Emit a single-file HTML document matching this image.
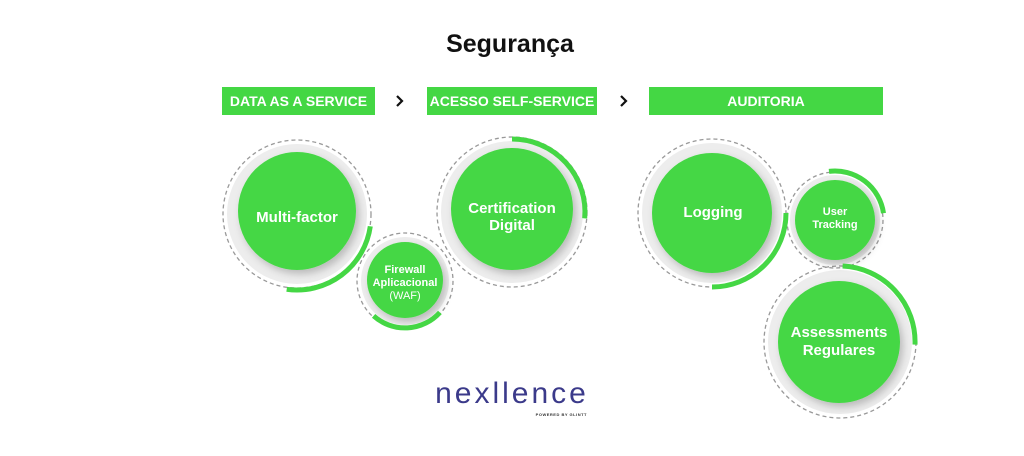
<!DOCTYPE html>
<html><head><meta charset="utf-8"><style>
html,body{margin:0;padding:0;background:#fff;}
svg{display:block;}
text{font-family:"Liberation Sans",sans-serif;}
</style></head><body>
<svg width="1024" height="456" viewBox="0 0 1024 456" xmlns="http://www.w3.org/2000/svg">
<defs>
<filter id="sh" x="-30%" y="-30%" width="160%" height="160%">
<feDropShadow dx="3" dy="4" stdDeviation="4" flood-color="#000" flood-opacity="0.22"/>
</filter>
</defs>
<rect width="1024" height="456" fill="#fff"/>
<text x="510" y="52" font-size="25" font-weight="bold" fill="#111" text-anchor="middle">Segurança</text>

<rect x="222" y="87" width="153" height="28" fill="#44d744"/>
<text x="298.5" y="106" font-size="14" font-weight="bold" fill="#fff" text-anchor="middle">DATA AS A SERVICE</text>
<rect x="427" y="87" width="170" height="28" fill="#44d744"/>
<text x="512" y="106" font-size="14" font-weight="bold" fill="#fff" text-anchor="middle">ACESSO SELF-SERVICE</text>
<rect x="649" y="87" width="234" height="28" fill="#44d744"/>
<text x="766" y="106" font-size="14" font-weight="bold" fill="#fff" text-anchor="middle">AUDITORIA</text>
<path d="M397 96 L402 101 L397 106" fill="none" stroke="#111" stroke-width="2.2"/>
<path d="M621 96 L626 101 L621 106" fill="none" stroke="#111" stroke-width="2.2"/>

<g stroke="#999" stroke-width="1.3" stroke-dasharray="4 3" fill="none">
<circle cx="297" cy="214" r="74"/>
<circle cx="405" cy="281" r="48"/>
<circle cx="512" cy="212" r="75"/>
<circle cx="712" cy="213" r="74"/>
<circle cx="835" cy="220" r="48"/>
<circle cx="840" cy="342" r="76"/>
</g>
<g fill="#ededed">
<circle cx="297" cy="214" r="70"/>
<circle cx="405" cy="281" r="44"/>
<circle cx="512" cy="212" r="71"/>
<circle cx="712" cy="213" r="70"/>
<circle cx="835" cy="220" r="45"/>
<circle cx="840" cy="342" r="72"/>
</g>
<g fill="#44d744" filter="url(#sh)">
<circle cx="297" cy="211" r="59"/>
<circle cx="405" cy="280" r="38"/>
<circle cx="512" cy="209" r="61"/>
<circle cx="712" cy="213" r="60"/>
<circle cx="835" cy="220" r="40"/>
<circle cx="839" cy="342" r="61"/>
</g>
<g fill="none" stroke="#44d744" stroke-width="5">
<path d="M370.3 226.3 A74 74 0 0 1 286.7 289.3"/>
<path d="M439.9 312.4 A47 47 0 0 1 373.6 315.9"/>
<path d="M512 139 A73 73 0 0 1 584.7 218.4"/>
<path d="M786 213 A74 74 0 0 1 712 287"/>
<path d="M829 171.4 A49 49 0 0 1 883.5 213.2"/>
<path d="M842.6 266 A76 76 0 0 1 915 344.6"/>
</g>
<g fill="#fff" font-weight="bold" text-anchor="middle">
<text x="297" y="222" font-size="15">Multi-factor</text>
<text x="405" y="273" font-size="11">Firewall</text>
<text x="405" y="286" font-size="11">Aplicacional</text>
<text x="405" y="299" font-size="11" font-weight="normal">(WAF)</text>
<text x="512" y="213" font-size="15">Certification</text>
<text x="512" y="230" font-size="15">Digital</text>
<text x="713" y="217" font-size="15">Logging</text>
<text x="835" y="215" font-size="11">User</text>
<text x="835" y="228" font-size="11">Tracking</text>
<text x="839" y="337" font-size="15">Assessments</text>
<text x="839" y="355" font-size="15">Regulares</text>
</g>
<text x="512" y="403" font-size="30" fill="#3b3a8a" text-anchor="middle" letter-spacing="3" font-weight="normal">nexllence</text>
<text x="587" y="416" font-size="4" fill="#333" text-anchor="end" font-weight="bold" letter-spacing="0.5">POWERED BY GLINTT</text>
</svg>
</body></html>
